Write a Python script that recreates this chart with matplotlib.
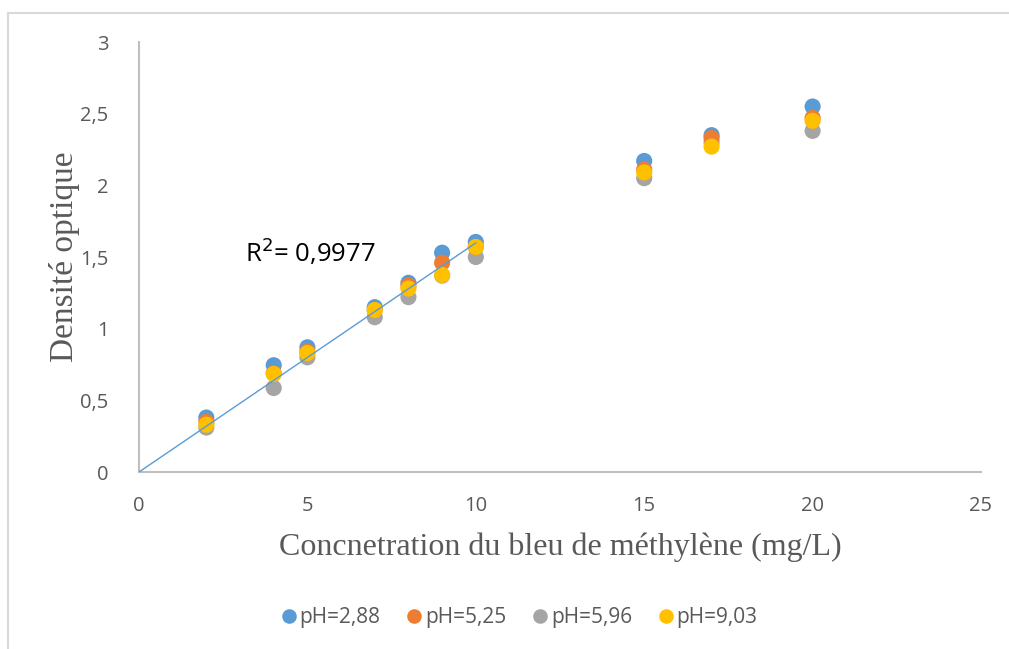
import numpy as np
import matplotlib
matplotlib.use("Agg")
import matplotlib.pyplot as plt
from matplotlib.lines import Line2D

conc = [2, 4, 5, 7, 8, 9, 10, 15, 17, 20]
ph_288 = [0.38, 0.745, 0.87, 1.15, 1.32, 1.53, 1.605, 2.17, 2.35, 2.55]
ph_525 = [0.35, 0.69, 0.84, 1.13, 1.30, 1.46, 1.57, 2.11, 2.33, 2.47]
ph_596 = [0.31, 0.586, 0.80, 1.08, 1.22, 1.37, 1.50, 2.05, 2.30, 2.38]
ph_903 = [0.33, 0.684, 0.83, 1.13, 1.28, 1.375, 1.57, 2.09, 2.27, 2.45]
labels = ["pH=2,88", "pH=5,25", "pH=5,96", "pH=9,03"]
colors = ["#5B9BD5", "#ED7D31", "#A5A5A5", "#FFC000"]
xticks = [0, 5, 10, 15, 20, 25]
xticklabels = ["0", "5", "10", "15", "20", "25"]
yticks = [0, 0.5, 1, 1.5, 2, 2.5, 3]
yticklabels = ["0", "0,5", "1", "1,5", "2", "2,5", "3"]
r2_text = "R$^2$= 0,9977"

W, H = 1009, 649
fig = plt.figure(figsize=(W / 100, H / 100), dpi=100)

# chart-area border (left and top visible)
fig.add_artist(Line2D([8 / W, 8 / W], [0, 1 - 13 / H], transform=fig.transFigure,
                      color="#D9D9D9", lw=1.5))
fig.add_artist(Line2D([8 / W, 1], [1 - 13 / H, 1 - 13 / H], transform=fig.transFigure,
                      color="#D9D9D9", lw=1.5))

x0, x1, ytop, ybot = 139, 981, 42, 472
ax = fig.add_axes([x0 / W, 1 - ybot / H, (x1 - x0) / W, (ybot - ytop) / H])
ax.set_xlim(0, 25)
ax.set_ylim(0, 3)

series = [ph_288, ph_525, ph_596, ph_903]
order = [2, 0, 1, 3]
for k, i in enumerate(order):
    ax.scatter(conc, series[i], s=135, color=colors[i], zorder=3 + k,
               edgecolors="none", label=labels[i])

# linear trendline through origin on the linear range (mean of the series)
lin = np.array(conc) <= 10
xs = np.array(conc)[lin]
ys = np.mean(np.array(series), axis=0)[lin]
slope = np.sum(xs * ys) / np.sum(xs * xs)
ax.plot([0, 10], [0, 10 * slope], color="#5B9BD5", lw=1.0, zorder=10)

ax.text(3.15, 1.53, r2_text, fontsize=18.5, family="Open Sans", color="black",
        ha="left", va="center")

for s in ["top", "right"]:
    ax.spines[s].set_visible(False)
for s in ["left", "bottom"]:
    ax.spines[s].set_color("#BFBFBF")
    ax.spines[s].set_linewidth(1.5)
ax.set_xticks(xticks)
ax.set_xticklabels(xticklabels)
ax.set_yticks(yticks)
ax.set_yticklabels(yticklabels)
ax.tick_params(length=0, labelsize=14.5, labelcolor="#595959")
ax.tick_params(axis="x", pad=17)
ax.tick_params(axis="y", pad=22)
for lab in ax.get_xticklabels() + ax.get_yticklabels():
    lab.set_family("Open Sans")

ax.set_xlabel("Concnetration du bleu de méthylène (mg/L)", family="Liberation Serif",
              fontsize=23, color="#595959", labelpad=12)
ax.set_ylabel("Densité optique", family="Liberation Serif", fontsize=24,
              color="#595959", labelpad=0)

handles = [Line2D([], [], marker="o", ls="none", markersize=10.5, color=c,
                  markeredgecolor="none") for c in colors]
leg = fig.legend(handles, labels, loc="center", bbox_to_anchor=(519 / W, 1 - 618 / H),
                 ncol=4, frameon=False, handletextpad=0.1, handlelength=0.8,
                 columnspacing=1.25, prop={"family": "Open Sans", "size": 15})
for t in leg.get_texts():
    t.set_color("#595959")

fig.savefig("out.png", dpi=100)
